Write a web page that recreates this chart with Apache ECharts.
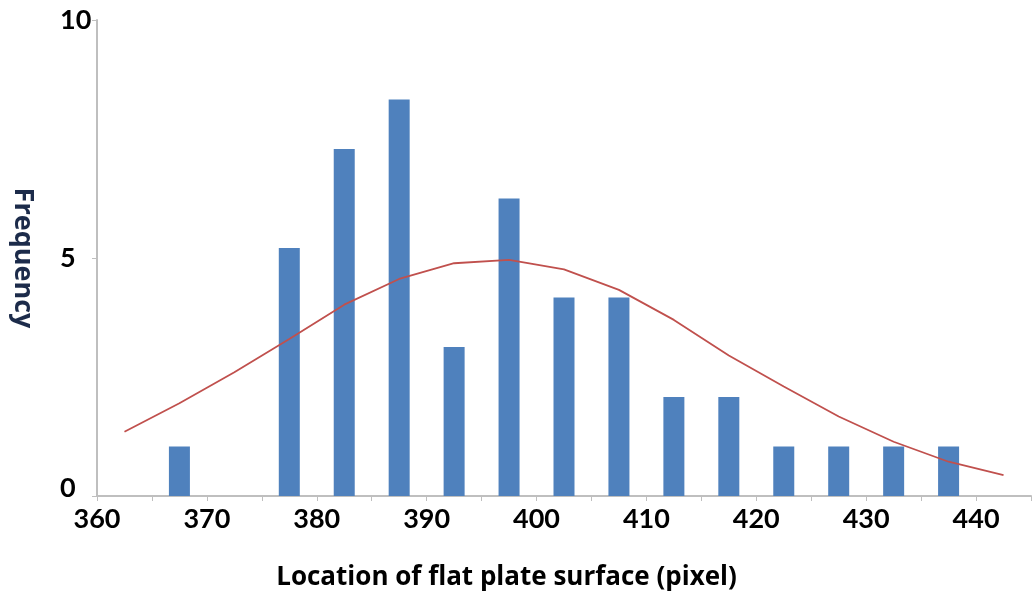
<!DOCTYPE html>
<html>
<head>
<meta charset="utf-8">
<script src="https://cdn.jsdelivr.net/npm/echarts@6/dist/echarts.min.js"></script>
<style>
html, body { margin: 0; padding: 0; background: #fff; }
#chart { width: 1032px; height: 596px; }
</style>
</head>
<body>
<div id="chart"></div>
<script>
// bin centres and frequencies (histogram)
var binCenters = [367.5, 377.5, 382.5, 387.5, 392.5, 397.5, 402.5, 407.5, 412.5, 417.5, 422.5, 427.5, 432.5, 437.5];
var binFreq = [1.04, 5.21, 7.29, 8.33, 3.13, 6.25, 4.17, 4.17, 2.08, 2.08, 1.04, 1.04, 1.04, 1.04];

// fitted curve
var curveX = [362.5, 367.5, 372.5, 377.5, 382.5, 387.5, 392.5, 397.5, 402.5, 407.5, 412.5, 417.5, 422.5, 427.5, 432.5, 437.5, 442.5];
var curveY = [1.35, 1.95, 2.6, 3.3, 4.02, 4.56, 4.89, 4.96, 4.76, 4.33, 3.7, 2.95, 2.3, 1.67, 1.14, 0.72, 0.44];

var yTicks = [0, 5, 10];

var charts = echarts.init(document.getElementById('chart'));
var font = 'Lato, "Open Sans", sans-serif';
var nameFont = '"Open Sans", Lato, sans-serif';

var option = {
    animation: false,
    grid: {
        left: 97,
        right: 1,
        top: 20,
        bottom: 100,
        outerBoundsMode: 'none'
    },
    xAxis: {
        type: 'value',
        min: 360,
        max: 445,
        interval: 10,
        name: 'Location of flat plate surface (pixel)',
        nameLocation: 'middle',
        nameGap: 69,
        nameTextStyle: {
            fontFamily: nameFont,
            fontSize: 26,
            fontWeight: 'bold',
            color: '#000',
            padding: [0, 115, 0, 0]
        },
        axisLine: { show: true, lineStyle: { color: '#bfbfbf', width: 2 } },
        axisTick: { show: true, inside: false, length: 5, lineStyle: { color: '#bfbfbf' } },
        minorTick: { show: true, splitNumber: 2, length: 5, lineStyle: { color: '#bfbfbf' } },
        splitLine: { show: false },
        axisLabel: {
            margin: 10,
            fontFamily: font,
            fontSize: 27,
            fontWeight: 'bold',
            color: '#000',
            formatter: function (v) { return v % 10 === 0 ? String(v) : ''; }
        }
    },
    yAxis: {
        type: 'value',
        min: 0,
        max: 10,
        interval: 5,
        name: 'Frequency',
        nameLocation: 'middle',
        nameRotate: -90,
        nameGap: 61,
        nameTextStyle: {
            fontFamily: nameFont,
            fontSize: 27,
            fontWeight: 'bold',
            color: '#1c2b4a'
        },
        axisLine: { show: true, lineStyle: { color: '#bfbfbf', width: 2 } },
        axisTick: { show: true, length: 5, lineStyle: { color: '#bfbfbf' } },
        splitLine: { show: false },
        axisLabel: {
            margin: 37,
            align: 'left',
            fontFamily: font,
            fontSize: 27,
            fontWeight: 'bold',
            color: '#000',
            formatter: function (v) {
                return yTicks.indexOf(v) >= 0 ? (v === 0 ? '{z|0}' : String(v)) : '';
            },
            rich: {
                z: { fontFamily: font, fontSize: 27, fontWeight: 'bold', color: '#000', padding: [0, 0, 16, 0] }
            }
        }
    },
    series: [
        {
            name: 'Frequency',
            type: 'bar',
            barWidth: 21,
            itemStyle: { color: '#4f81bd' },
            data: binCenters.map(function (x, i) { return [x, binFreq[i]]; }),
            z: 2
        },
        {
            name: 'Fit',
            type: 'line',
            showSymbol: false,
            smooth: false,
            lineStyle: { color: '#c0504d', width: 1.8 },
            data: curveX.map(function (x, i) { return [x, curveY[i]]; }),
            z: 3
        }
    ]
};

//渲染图表
if (option && typeof option === "object") {
    charts.setOption(option, true);
}
</script>
</body>
</html>
